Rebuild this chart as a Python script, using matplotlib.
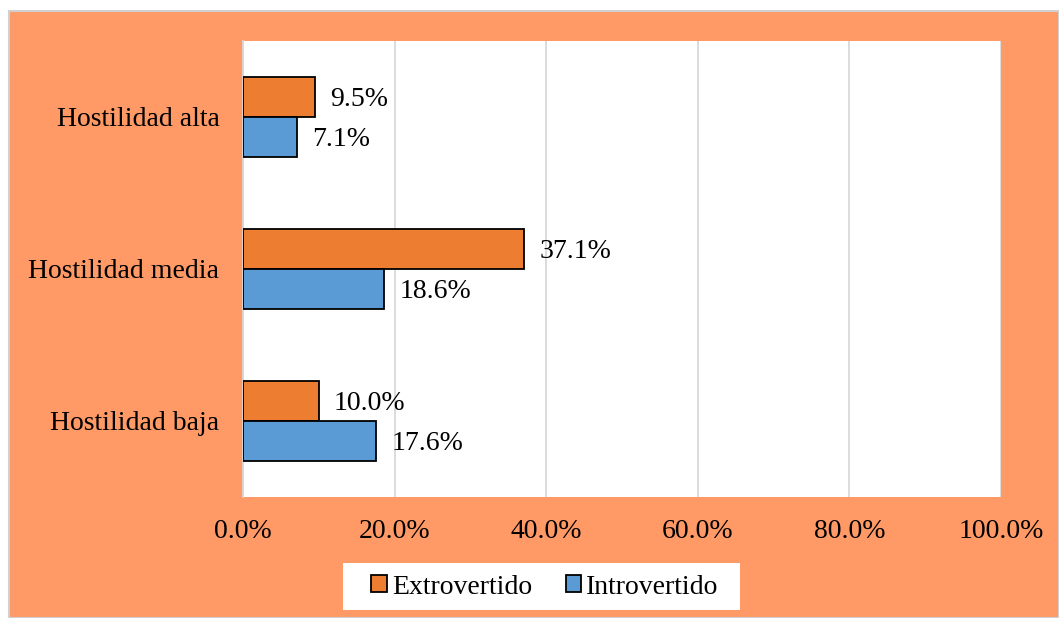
import matplotlib.pyplot as plt
import numpy as np
from matplotlib.patches import Rectangle

plt.rcParams["font.family"] = ["Liberation Serif", "DejaVu Serif"]

categories = ["Hostilidad baja", "Hostilidad media", "Hostilidad alta"]
extrovertido = [10.0, 37.1, 9.5]
introvertido = [17.6, 18.6, 7.1]
xticks = [0, 20, 40, 60, 80, 100]

ORANGE_BG = "#FF9966"
C_EXT = "#ED7D31"
C_INT = "#5B9BD5"
FS = 20

W, H = 1059, 618
fig = plt.figure(figsize=(W / 100, H / 100), dpi=100)
fig.patch.set_facecolor("white")

# orange chart area with thin gray frame
fig.patches.append(Rectangle((9 / W, 0), 1 - 9 / W, 1 - 11 / H, transform=fig.transFigure,
                             facecolor=ORANGE_BG, edgecolor="#D0D0D0", lw=1.5, zorder=-10))
# white legend box
fig.patches.append(Rectangle((343 / W, 1 - 610 / H), (740 - 343) / W, 47 / H,
                             transform=fig.transFigure, facecolor="white", edgecolor="none",
                             zorder=-5))

ax = fig.add_axes([243 / W, 1 - 497 / H, (1001 - 243) / W, (497 - 41) / H])
ax.set_facecolor("white")

y = np.arange(len(categories))
h = 0.26
b1 = ax.barh(y + h / 2, extrovertido, height=h, color=C_EXT, edgecolor="black", lw=1.3,
             label="Extrovertido", zorder=3)
b2 = ax.barh(y - h / 2, introvertido, height=h, color=C_INT, edgecolor="black", lw=1.3,
             label="Introvertido", zorder=3)

for bars, vals in ((b1, extrovertido), (b2, introvertido)):
    for bar, v in zip(bars, vals):
        ax.text(v + 2.0, bar.get_y() + bar.get_height() / 2 - 0.015, f"{v:.1f}%",
                va="center", ha="left", fontsize=FS)

ax.set_xlim(0, 100)
ax.set_ylim(-0.5, 2.5)
ax.set_xticks(xticks)
ax.set_xticklabels([f"{t:.1f}%" for t in xticks], fontsize=FS)
ax.set_yticks(y)
ax.set_yticklabels(categories, fontsize=FS)
ax.tick_params(length=0)
ax.tick_params(axis="y", pad=17)
ax.tick_params(axis="x", pad=16)
ax.grid(axis="x", color="#D9D9D9", lw=1.3, zorder=0)
for s in ["top", "right", "bottom"]:
    ax.spines[s].set_visible(False)
ax.spines["left"].set_color("#D9D9D9")
ax.spines["left"].set_linewidth(1.3)

leg = fig.legend(handles=[b1, b2], loc="center", bbox_to_anchor=(545 / W, 1 - 587 / H), ncol=2,
                 fontsize=FS, frameon=False,
                 handlelength=0.55, handleheight=0.55, handletextpad=0.2, columnspacing=1.2)

fig.savefig("out.png", dpi=100)
